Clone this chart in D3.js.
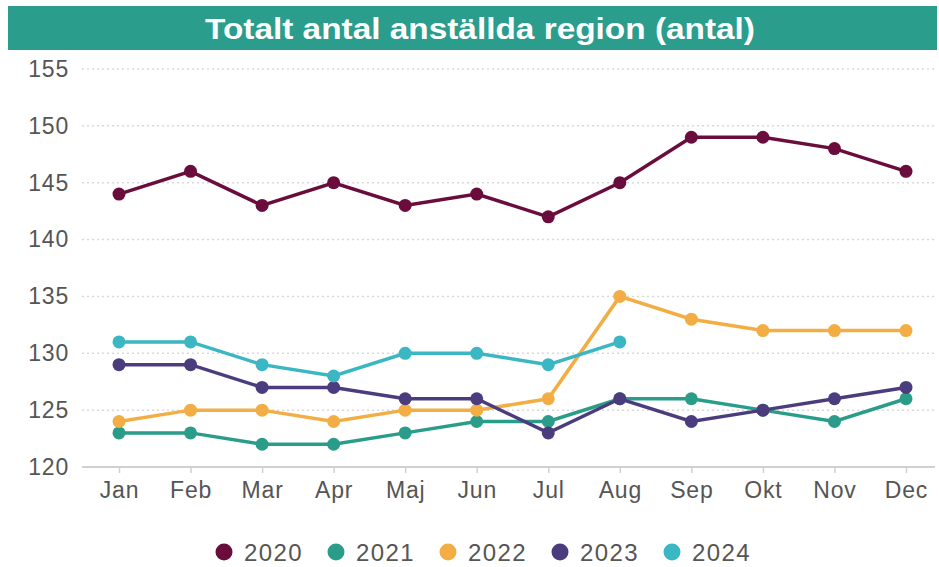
<!DOCTYPE html>
<html>
<head>
<meta charset="utf-8">
<script src="https://cdn.jsdelivr.net/npm/d3@7/dist/d3.min.js"></script>
<style>
  body { margin: 0; background: #fff; }
  svg { display: block; font-family: "Liberation Sans", Arial, sans-serif; }
</style>
</head>
<body>
<svg id="chart" width="939" height="567"></svg>
<script>
const months = ["Jan", "Feb", "Mar", "Apr", "Maj", "Jun", "Jul", "Aug", "Sep", "Okt", "Nov", "Dec"];
const years = ["2020", "2021", "2022", "2023", "2024"];
const v2020 = [144, 146, 143, 145, 143, 144, 142, 145, 149, 149, 148, 146];
const v2021 = [123, 123, 122, 122, 123, 124, 124, 126, 126, 125, 124, 126];
const v2022 = [124, 125, 125, 124, 125, 125, 126, 135, 133, 132, 132, 132];
const v2023 = [129, 129, 127, 127, 126, 126, 123, 126, 124, 125, 126, 127];
const v2024 = [131, 131, 129, 128, 130, 130, 129, 131];
const yTicks = [120, 125, 130, 135, 140, 145, 150, 155];
const colors = ["#6a0d3c", "#2a9d8a", "#f2ae45", "#4b3c7e", "#3ab7c3"];

const series = [v2020, v2021, v2022, v2023, v2024].map((vals, i) => ({
    year: years[i], color: colors[i], values: vals
}));

const svg = d3.select("#chart");
const labelColor = "#555";

// title bar
svg.append("rect")
    .attr("x", 8).attr("y", 6)
    .attr("width", 929).attr("height", 44)
    .attr("fill", "#2a9d8c");
svg.append("text")
    .attr("x", 205).attr("y", 39)
    .attr("fill", "#fff")
    .attr("font-size", 29)
    .attr("font-weight", "bold")
    .attr("textLength", 550)
    .attr("lengthAdjust", "spacingAndGlyphs")
    .text("Totalt antal anställda region (antal)");

const x = d3.scalePoint().domain(months).range([119, 906]);
const y = d3.scaleLinear().domain([120, 155]).range([467, 69]);

// grid
svg.append("g").selectAll("line")
    .data(yTicks.slice(1))
    .join("line")
    .attr("x1", 82).attr("x2", 935)
    .attr("y1", d => y(d)).attr("y2", d => y(d))
    .attr("stroke", "#d9d9d9")
    .attr("stroke-width", 1.5)
    .attr("stroke-dasharray", "2,3");

// y axis labels
const yAxis = d3.axisLeft(y).tickValues(yTicks).tickSize(0).tickPadding(0);
svg.append("g")
    .attr("transform", "translate(69,0)")
    .call(yAxis)
    .call(g => g.select(".domain").remove())
    .call(g => g.selectAll("text")
        .attr("font-size", 23)
        .attr("letter-spacing", 0.8)
        .attr("fill", labelColor)
        .attr("font-family", "Liberation Sans, Arial, sans-serif"));

// x axis
const xAxis = d3.axisBottom(x).tickSize(6).tickPadding(9);
svg.append("g")
    .attr("transform", `translate(0,${y(120)})`)
    .call(xAxis)
    .call(g => g.select(".domain")
        .attr("d", "M82,0H935")
        .attr("stroke", "#d0d0d0")
        .attr("stroke-width", 2))
    .call(g => g.selectAll(".tick line").attr("stroke", "#d0d0d0").attr("stroke-width", 1.5))
    .call(g => g.selectAll("text")
        .attr("font-size", 23)
        .attr("letter-spacing", 0.8)
        .attr("fill", labelColor)
        .attr("font-family", "Liberation Sans, Arial, sans-serif"));

// lines and points
const line = d3.line()
    .x((d, i) => x(months[i]))
    .y(d => y(d));

const sg = svg.append("g").selectAll("g")
    .data(series)
    .join("g");

sg.append("path")
    .attr("d", d => line(d.values))
    .attr("fill", "none")
    .attr("stroke", d => d.color)
    .attr("stroke-width", 3.5);

sg.selectAll("circle")
    .data(d => d.values.map((v, i) => ({v, i, color: d.color})))
    .join("circle")
    .attr("cx", d => x(months[d.i]))
    .attr("cy", d => y(d.v))
    .attr("r", 6.5)
    .attr("fill", d => d.color);

// legend
const leg = svg.append("g").selectAll("g")
    .data(series)
    .join("g")
    .attr("transform", (d, i) => `translate(${224 + i * 112},552)`);
leg.append("circle").attr("r", 8.5).attr("fill", d => d.color);
leg.append("text")
    .attr("x", 20).attr("y", 8.5)
    .attr("font-size", 24)
    .attr("letter-spacing", 1.4)
    .attr("fill", labelColor)
    .text(d => d.year);
</script>
</body>
</html>
